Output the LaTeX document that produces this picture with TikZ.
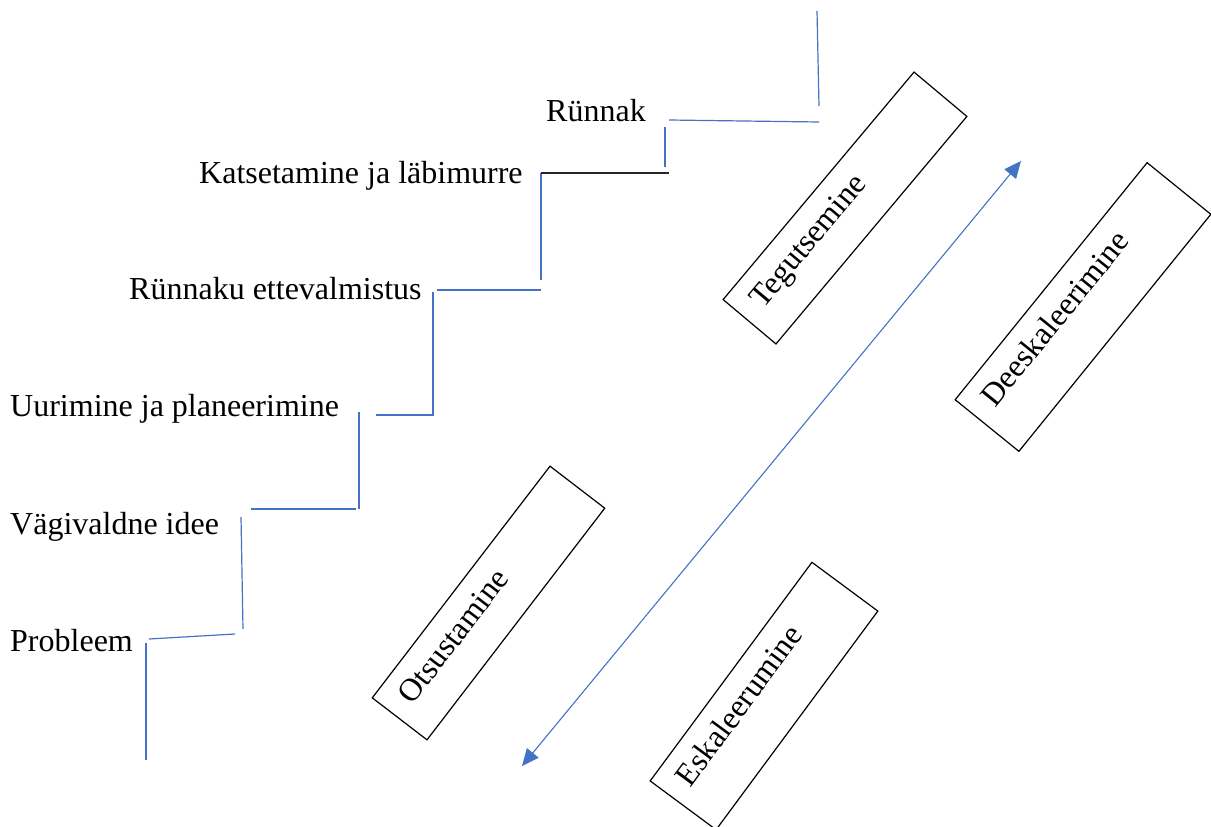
\documentclass[tikz,border=0pt]{standalone}
\usepackage{fontspec}
\setmainfont{Liberation Serif}
\usetikzlibrary{arrows.meta}
\definecolor{stairblue}{RGB}{68,114,196}
\begin{document}
\begin{tikzpicture}[x=1pt,y=-1pt,
  stair/.style={draw=stairblue, line width=1.2pt},
  stairdark/.style={draw=black!85, line width=1.2pt},
  lbl/.style={anchor=base west, inner sep=0pt, font=\fontsize{32}{38}\selectfont},
  phasebox/.style={draw=black, line width=1.2pt, inner sep=0pt},
  phasetext/.style={anchor=base west, inner sep=0pt, font=\fontsize{32}{38}\selectfont},
  dbl/.style={draw=stairblue, line width=1.1pt, {Triangle[length=17pt,width=15pt]}-{Triangle[length=17pt,width=15pt]}}
]
\useasboundingbox (0,0) rectangle (1211,827);

% staircase
\draw[stair] (146,760) -- (146,643);
\draw[stair] (149,639) -- (235,634);
\draw[stair] (243,629) -- (241,517);
\draw[stair] (251,509) -- (356,509);
\draw[stair] (359,509) -- (359,412);
\draw[stair] (376,415) -- (434,415);
\draw[stair] (433,414) -- (433,292);
\draw[stair] (437,290) -- (541,290);
\draw[stair] (541,280) -- (541,173);
\draw[stairdark] (541,173) -- (669,173);
\draw[stair] (665,167) -- (665,127);
\draw[stair] (669,120) -- (819,122);
\draw[stair] (819,106) -- (817,11);

% step labels
\node[lbl] (l1) at (10,651) {Probleem};
\node[lbl] (l2) at (10,534) {Vägivaldne idee};
\node[lbl] (l3) at (10,416) {Uurimine ja planeerimine};
\node[lbl] (l4) at (129,299) {Rünnaku ettevalmistus};
\node[lbl] (l5) at (199,183) {Katsetamine ja läbimurre};
\node[lbl] (l6) at (546,121) {Rünnak};

% rotated boxes
\begin{scope}[shift={(845,208)}, rotate=50, y=1pt, transform shape]
  \node[phasebox, minimum width=297pt, minimum height=69pt] (teg) at (0,0) {};
  \node[phasetext] (tegt) at (-130.5,-2.5) {Tegutsemine};
\end{scope}
\begin{scope}[shift={(1083,307)}, rotate=51, y=1pt, transform shape]
  \node[phasebox, minimum width=305pt, minimum height=82pt] (dee) at (0,0) {};
  \node[phasetext] (deet) at (-134.5,4) {Deeskaleerimine};
\end{scope}
\begin{scope}[shift={(488.5,603)}, rotate=52.5, y=1pt, transform shape]
  \node[phasebox, minimum width=292pt, minimum height=69pt] (ots) at (0,0) {};
  \node[phasetext] (otst) at (-128,-2.5) {Otsustamine};
\end{scope}
\begin{scope}[shift={(764,696)}, rotate=53.5, y=1pt, transform shape]
  \node[phasebox, minimum width=272pt, minimum height=82pt] (esk) at (0,0) {};
  \node[phasetext] (eskt) at (-118,4) {Eskaleerumine};
\end{scope}

% double arrow
\coordinate (ad) at (522,766);
\coordinate (au) at (1021,161);
\draw[dbl] (ad) -- (au);
\end{tikzpicture}
\end{document}
